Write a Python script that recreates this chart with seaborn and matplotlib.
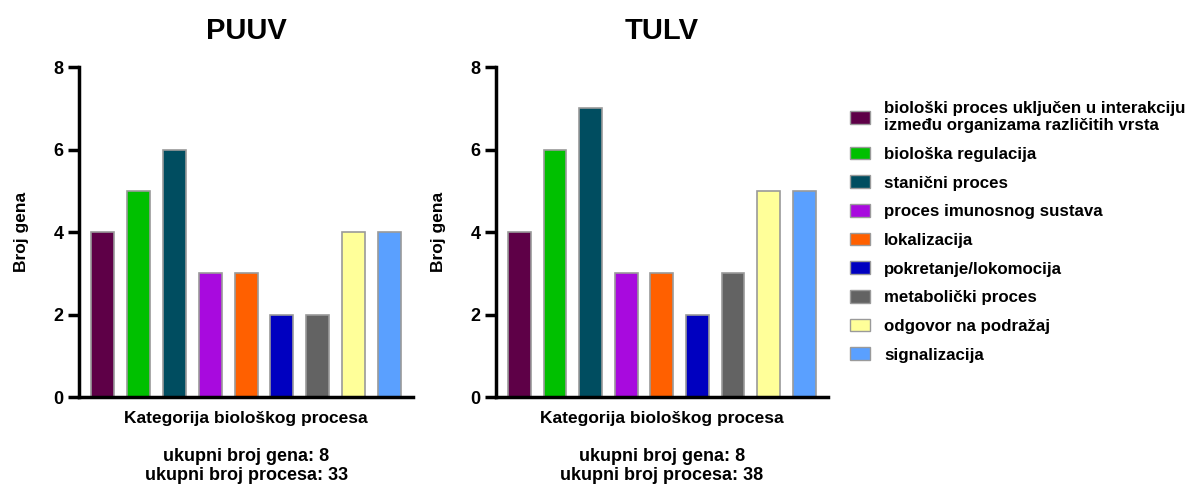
import matplotlib
matplotlib.use("Agg")
import matplotlib.pyplot as plt
import matplotlib.patches as mpatches
import seaborn as sns
import pandas as pd

categories = [
    "biološki proces uključen u interakciju\nizmeđu organizama različitih vrsta",
    "biološka regulacija",
    "stanični proces",
    "proces imunosnog sustava",
    "lokalizacija",
    "pokretanje/lokomocija",
    "metabolički proces",
    "odgovor na podražaj",
    "signalizacija",
]
puuv_values = [4, 5, 6, 3, 3, 2, 2, 4, 4]
tulv_values = [4, 6, 7, 3, 3, 2, 3, 5, 5]
colors = ["#5E0047", "#00C000", "#004D60", "#A80ADE", "#FF6000",
          "#0000C0", "#636363", "#FFFF99", "#5AA0FF"]
titles = ["PUUV", "TULV"]
footers = ["ukupni broj gena: 8\nukupni broj procesa: 33",
           "ukupni broj gena: 8\nukupni broj procesa: 38"]
yticks = [0, 2, 4, 6, 8]

sns.set_style("white")
plt.rcParams['font.family'] = ['Liberation Sans', 'DejaVu Sans']
plt.rcParams['font.weight'] = 'bold'
plt.rcParams['text.color'] = 'black'
plt.rcParams['axes.labelcolor'] = 'black'
plt.rcParams['xtick.color'] = 'black'
plt.rcParams['ytick.color'] = 'black'

fig = plt.figure(figsize=(11.9, 4.86), dpi=100)
ax_pos = [[0.0664, 0.183, 0.281, 0.679], [0.4168, 0.183, 0.279, 0.679]]
palette = dict(zip(categories, colors))

for pos, vals, title, foot in zip(ax_pos, [puuv_values, tulv_values], titles, footers):
    ax = fig.add_axes(pos)
    df = pd.DataFrame({"cat": categories, "val": vals})
    sns.barplot(data=df, x="cat", y="val", hue="cat", palette=palette,
                order=categories, hue_order=categories, dodge=False,
                legend=False, width=0.64, edgecolor="#9a9a9a", linewidth=1.2,
                saturation=1, ax=ax)
    ax.set_xlim(-0.66, 8.67)
    ax.set_ylim(0, 8)
    ax.set_yticks(yticks)
    ax.set_yticklabels([str(t) for t in yticks], fontsize=13, fontweight='bold')
    ax.set_xticks([])
    ax.set_xlabel("Kategorija biološkog procesa", fontsize=12.5, fontweight='bold', labelpad=10)
    ax.set_ylabel("Broj gena", fontsize=12.5, fontweight='bold', labelpad=18)
    ax.set_title(title, fontsize=21, fontweight='bold', pad=20)
    for s in ["top", "right"]:
        ax.spines[s].set_visible(False)
    for s in ["left", "bottom"]:
        ax.spines[s].set_linewidth(2.5)
        ax.spines[s].set_color("black")
    ax.tick_params(axis='y', left=True, direction='out', length=8, width=2.5,
                   color='black', pad=3, labelcolor='black')
    ax.text(0.5, -0.155, foot, transform=ax.transAxes, ha='center', va='top',
            fontsize=13, fontweight='bold', linespacing=1.15)

handles = [mpatches.Patch(facecolor=c, edgecolor="#9a9a9a", linewidth=1, label=l)
           for c, l in zip(colors, categories)]
fig.legend(handles=handles, loc='upper left', bbox_to_anchor=(0.704, 0.817),
           frameon=False, prop={'size': 12.2, 'weight': 'bold'},
           handlelength=1.2, handleheight=0.8, handletextpad=0.85,
           labelspacing=0.785, borderaxespad=0.3)

fig.savefig("out.png", dpi=100)
